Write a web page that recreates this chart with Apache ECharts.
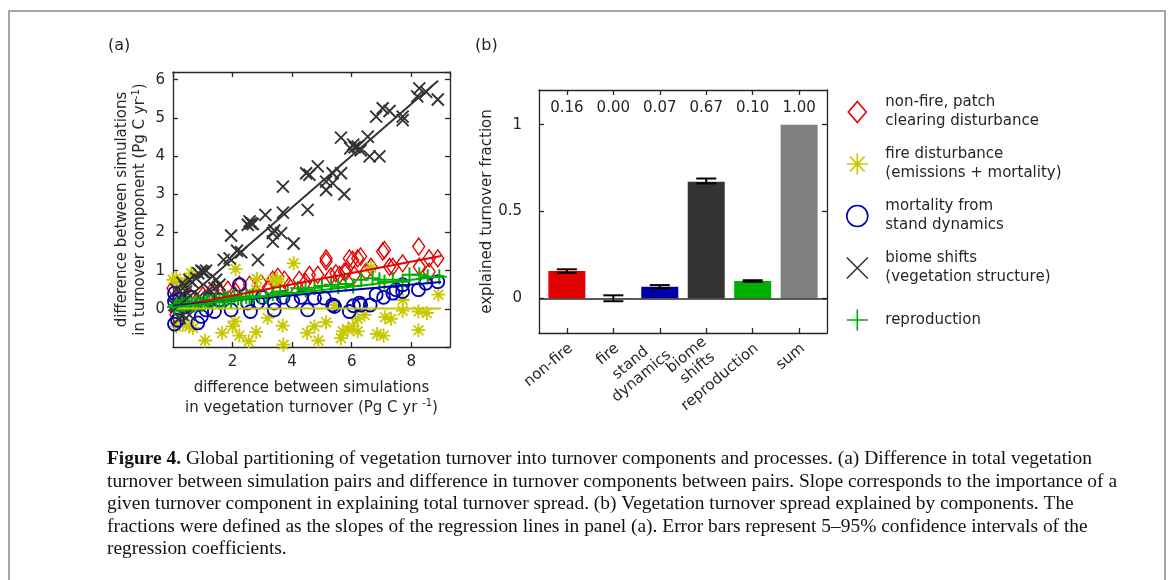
<!DOCTYPE html>
<html><head><meta charset="utf-8">
<script src="https://cdn.jsdelivr.net/npm/echarts@6/dist/echarts.min.js"></script>
<style>html,body{margin:0;padding:0;background:#fff}#c{width:1171px;height:580px}</style>
</head><body><div id="c"></div>
<script>
// ---------- panel (a) data: difference in total turnover (x) vs component (y) ----------
const nonfireX = [0.0,0.1,0.25,0.4,0.6,0.8,1.0,1.2,1.34,1.6,1.84,2.1,2.23,2.57,2.96,3.2,3.35,3.52,3.74,3.9,4.24,4.45,4.58,4.86,5.14,5.14,5.3,5.47,5.59,5.75,5.81,5.92,6.03,6.09,6.2,6.3,6.48,6.65,7.04,7.1,7.27,7.38,7.71,8.25,8.27,8.6,8.6,8.89];
const nonfireY = [0.54,-0.16,0.25,0.1,0.3,0.2,0.35,0.3,0.5,0.4,0.5,0.45,0.63,0.63,0.67,0.55,0.76,0.84,0.76,0.6,0.76,0.7,0.89,0.89,1.24,1.32,0.85,0.93,0.89,0.97,0.97,1.32,1.28,0.89,1.32,1.37,0.97,1.1,1.5,1.54,1.1,1.1,1.19,1.63,1.1,1.32,0.97,1.32];

const fireX = [0.0,0.11,0.28,0.39,0.61,0.11,0.22,0.33,0.55,0.67,1.08,1.65,2.0,2.08,2.1,2.23,2.54,2.79,2.82,2.79,3.18,3.35,3.5,3.57,3.68,3.71,4.05,4.5,4.75,4.88,5.14,5.42,5.64,5.7,5.87,6.03,6.2,6.2,6.43,6.65,6.85,7.07,7.12,7.32,7.71,7.71,8.24,8.24,8.52,8.91];
const fireY = [0.76,0.80,0.58,0.71,0.93,-0.46,-0.24,-0.42,-0.46,-0.50,-0.83,-0.63,-0.46,-0.33,1.04,-0.70,-0.85,-0.61,0.78,0.50,-0.24,0.76,0.78,0.71,-0.44,-0.94,1.19,-0.63,-0.46,-0.83,-0.35,0.10,-0.77,-0.59,-0.55,-0.46,-0.26,-0.59,-0.16,1.08,-0.66,-0.70,-0.22,-0.26,0.23,-0.05,-0.07,-0.56,-0.11,0.37];

const standX = [0.05,0.05,0.22,0.05,0.15,0.4,0.6,0.83,0.95,1.11,1.22,1.39,1.56,1.95,2.23,2.51,2.6,2.85,3.0,3.4,3.4,3.7,4.02,4.3,4.52,4.75,5.08,5.36,5.42,5.92,6.06,6.26,6.3,6.62,6.82,7.07,7.38,7.49,7.71,7.71,8.24,8.49,8.89];
const standY = [0.19,0.41,0.25,-0.40,-0.30,0.05,0.3,-0.37,-0.20,-0.03,0.23,-0.07,0.23,-0.03,0.63,0.15,-0.07,0.17,0.3,-0.03,0.15,0.3,0.19,0.3,-0.03,0.28,0.28,0.10,0.06,-0.07,0.08,0.15,0.10,0.10,0.37,0.30,0.41,0.50,0.45,0.63,0.50,0.67,0.71];

const biomeX = [0.05,0.10,0.11,0.22,0.28,0.32,0.33,0.39,0.44,0.55,0.55,0.65,0.78,0.85,0.89,0.95,1.00,1.05,1.11,1.22,1.39,1.45,1.56,1.70,1.90,1.95,2.15,2.29,2.51,2.57,2.62,2.68,2.85,3.10,3.35,3.35,3.40,3.63,3.69,3.69,4.05,4.47,4.52,4.58,4.86,5.14,5.14,5.36,5.36,5.64,5.64,5.75,5.95,6.05,6.10,6.20,6.30,6.54,6.60,6.93,6.82,7.04,7.27,7.71,7.71,8.20,8.27,8.50,8.89];
const biomeY = [0.10,0.06,0.50,-0.24,0.37,0.68,-0.16,0.58,0.45,0.76,-0.16,0.70,0.80,0.93,0.32,1.00,0.97,0.95,1.00,0.50,0.54,0.76,0.63,1.28,1.32,1.92,1.52,1.48,2.20,2.29,2.24,2.22,1.28,2.46,1.98,1.76,2.05,1.98,2.52,3.20,1.71,3.55,2.59,3.51,3.73,3.33,3.11,3.55,3.29,3.55,4.48,3.00,4.20,4.30,4.23,4.25,4.15,4.51,3.99,3.99,5.03,5.25,5.18,5.03,4.94,5.56,5.77,5.68,5.48];

const reproX = [0.05,0.12,0.22,0.3,0.39,0.47,0.55,0.63,0.72,0.8,0.89,0.97,1.06,1.14,1.22,1.33,1.45,1.56,1.67,1.75,1.84,1.95,2.06,2.18,2.29,2.46,2.57,2.68,2.9,3.13,3.35,3.6,3.85,4.19,4.45,4.75,5.0,5.31,5.55,5.8,6.05,6.32,6.7,6.93,7.1,7.38,7.71,7.94,8.27,8.55,8.94];
const reproY = [0.05,0.1,0.06,0.12,0.1,0.15,0.15,0.1,0.1,0.18,0.15,0.12,0.15,0.2,0.19,0.2,0.23,0.2,0.23,0.25,0.28,0.22,0.32,0.28,0.28,0.32,0.3,0.32,0.32,0.32,0.4,0.45,0.42,0.54,0.5,0.55,0.6,0.63,0.58,0.65,0.6,0.76,0.8,0.76,0.7,0.76,0.71,0.89,0.89,0.84,0.84];

// regression line end points
const nonfireFitX = [0, 9.0],  nonfireFitY = [0.05, 1.38];
const fireFitX    = [0, 9.0],  fireFitY    = [0.01, 0.01];
const standFitX   = [0, 9.0],  standFitY   = [0.08, 0.70];
const biomeFitX   = [0, 8.9],  biomeFitY   = [-0.05, 5.97];
const reproFitX   = [0, 9.1],  reproFitY   = [0.04, 0.86];

const seriesNames = ['non-fire, patch\nclearing disturbance', 'fire disturbance\n(emissions + mortality)', 'mortality from\nstand dynamics', 'biome shifts\n(vegetation structure)', 'reproduction'];

// ---------- panel (b) data ----------
const barCategories = ['non-fire', 'fire', 'stand\ndynamics', 'biome\nshifts', 'reproduction', 'sum'];
const barPositions = [1, 2, 3, 4, 5, 6];
const barValues = [0.157, 0.002, 0.066, 0.672, 0.099, 1.0];
const errLow  = [0.147, -0.017, 0.058, 0.662, 0.095, null];
const errHigh = [0.167,  0.017, 0.076, 0.690, 0.104, null];

// ---------- styling ----------
const C = { red:'#e60000', yellow:'#c8c800', blue:'#0000b4', gray:'#333333', green:'#00b000' };
const barColors = ['#e00000', '#e00000', '#0000aa', '#333333', '#00b000', '#808080'];
const TXT = '#262626';
const FF = 'DejaVu Sans';
const AX = { color: '#262626', width: 1.3 };

const symAster = 'path://M0,10L20,10M10,0L10,20M3,3L17,17M17,3L3,17';
const symX = 'path://M0,0L20,20M20,0L0,20';
const symPlus = 'path://M0,10L20,10M10,0L10,20';
const symDiamond = 'path://M6,0L12,7L6,14L0,7Z';

const zip = (xs, ys) => xs.map((x, i) => [x, ys[i]]);

const ctx = document.createElement('canvas').getContext('2d');
function textW(t, font) { ctx.font = font; return ctx.measureText(t).width; }

const chart = echarts.init(document.getElementById('c'), null, { renderer: 'canvas' });

function boxAxis(extra) {
  return Object.assign({
    axisLine: { show: true, onZero: false, lineStyle: AX },
    axisTick: { show: true, inside: true, length: 5, lineStyle: AX },
    splitLine: { show: false }
  }, extra);
}
const tickLabel = { fontSize: 15, fontFamily: FF, color: TXT };

// rich styles so that multi-line category labels are centred line by line
const catRich = {};
barCategories.forEach((s, i) => {
  const w = Math.max.apply(null, s.split('\n').map(p => textW(p, '15px "DejaVu Sans"')));
  catRich['c' + i] = { width: Math.ceil(w), align: 'center', fontSize: 15, fontFamily: FF, color: TXT, lineHeight: 17 };
});
function catLabel(v) {
  const i = Math.round(v) - 1;
  const s = barCategories[i];
  if (s.indexOf('\n') < 0) return s;
  return s.split('\n').map(p => '{c' + i + '|' + p + '}').join('\n');
}

const scatterDefs = [
  { name: seriesNames[0], symbol: 'diamond', size: [12, 17], color: C.red, bw: 1.4, x: nonfireX, y: nonfireY },
  { name: seriesNames[1], symbol: symAster, size: 14, color: C.yellow, bw: 1.8, x: fireX, y: fireY },
  { name: seriesNames[2], symbol: 'circle', size: 13, color: C.blue, bw: 1.8, x: standX, y: standY },
  { name: seriesNames[3], symbol: symX, size: 12, color: C.gray, bw: 1.9, x: biomeX, y: biomeY },
  { name: seriesNames[4], symbol: symPlus, size: 15, color: C.green, bw: 2, x: reproX, y: reproY }
];
const fitDefs = [
  [nonfireFitX, nonfireFitY, C.red], [fireFitX, fireFitY, C.yellow], [standFitX, standFitY, C.blue],
  [biomeFitX, biomeFitY, C.gray], [reproFitX, reproFitY, C.green]
];
const legendIcons = [symDiamond, symAster, 'circle', symX, symPlus];

const series = [];
scatterDefs.forEach(d => series.push({
  type: 'scatter', name: d.name, xAxisIndex: 0, yAxisIndex: 0,
  symbol: d.symbol, symbolSize: d.size,
  itemStyle: { color: 'rgba(0,0,0,0)', borderColor: d.color, borderWidth: d.bw, opacity: 1 },
  emphasis: { disabled: true },
  data: zip(d.x, d.y)
}));
fitDefs.forEach(f => series.push({
  type: 'line', xAxisIndex: 0, yAxisIndex: 0, showSymbol: false, symbol: 'none',
  lineStyle: { color: f[2], width: 2 }, z: 3, silent: true,
  data: zip(f[0], f[1])
}));
series.push({
  type: 'bar', xAxisIndex: 2, yAxisIndex: 2, barWidth: 37,
  data: barPositions.map((p, i) => ({ value: [p, barValues[i]], itemStyle: { color: barColors[i] } })),
  silent: true,
  markLine: { silent: true, symbol: 'none', label: { show: false },
    lineStyle: { color: '#262626', width: 1.5, type: 'solid' }, data: [{ yAxis: 0 }] }
});
series.push({
  type: 'custom', xAxisIndex: 2, yAxisIndex: 2, z: 4, silent: true,
  data: barPositions.map((p, i) => [p, errLow[i], errHigh[i]]).filter(d => d[1] !== null),
  renderItem: function (params, api) {
    const x = api.value(0);
    const p1 = api.coord([x, api.value(1)]);
    const p2 = api.coord([x, api.value(2)]);
    const hw = 10;
    const st = { stroke: '#000', lineWidth: 2 };
    return { type: 'group', children: [
      { type: 'line', shape: { x1: p1[0], y1: p1[1], x2: p2[0], y2: p2[1] }, style: st },
      { type: 'line', shape: { x1: p1[0] - hw, y1: p1[1], x2: p1[0] + hw, y2: p1[1] }, style: st },
      { type: 'line', shape: { x1: p2[0] - hw, y1: p2[1], x2: p2[0] + hw, y2: p2[1] }, style: st }
    ] };
  }
});

// caption
const captionLines = [
  '{b|Figure 4.} Global partitioning of vegetation turnover into turnover components and processes. (a) Difference in total vegetation',
  'turnover between simulation pairs and difference in turnover components between pairs. Slope corresponds to the importance of a',
  'given turnover component in explaining total turnover spread. (b) Vegetation turnover spread explained by components. The',
  'fractions were defined as the slopes of the regression lines in panel (a). Error bars represent 5\u201395% confidence intervals of the',
  'regression coefficients.'
];
const CAP_FS = 19.5;
const capScale = 1010 / textW(captionLines[1], CAP_FS + 'px "Liberation Serif"');

const rich2 = {
  n: { fontSize: 15, fontFamily: FF, color: TXT, lineHeight: 18 },
  s: { fontSize: 10, fontFamily: FF, color: TXT, lineHeight: 18, verticalAlign: 'top' }
};

chart.setOption({
  animation: false,
  backgroundColor: '#fff',
  grid: [
    { left: 173, top: 72, width: 277, height: 275, containLabel: false, outerBoundsMode: 'none' },
    { left: 539, top: 90, width: 288, height: 243, containLabel: false, outerBoundsMode: 'none' }
  ],
  xAxis: [
    boxAxis({ gridIndex: 0, type: 'value', position: 'bottom', min: 0, max: 9.3, interval: 2,
      axisLabel: Object.assign({ showMinLabel: false, showMaxLabel: false, margin: 8 }, tickLabel),
      name: 'difference between simulations\n{n|in vegetation turnover (Pg C yr }{s|-1}{n|)}',
      nameLocation: 'middle', nameGap: 31,
      nameTextStyle: { fontSize: 15, fontFamily: FF, color: TXT, lineHeight: 20,
        rich: { n: Object.assign({}, rich2.n, { lineHeight: 20 }), s: Object.assign({}, rich2.s, { lineHeight: 20 }) } } }),
    boxAxis({ gridIndex: 0, type: 'value', position: 'top', min: 0, max: 9.3, interval: 2, axisLabel: { show: false } }),
    boxAxis({ gridIndex: 1, type: 'value', position: 'bottom', min: 0.4, max: 6.6,
      axisTick: { show: true, inside: true, length: 5, lineStyle: AX, customValues: barPositions },
      axisLabel: Object.assign({ customValues: barPositions, rotate: 40, margin: 9, padding: [12, 0, 0, 0],
        formatter: catLabel, rich: catRich, lineHeight: 17 }, tickLabel) }),
    boxAxis({ gridIndex: 1, type: 'value', position: 'top', min: 0.4, max: 6.6,
      axisTick: { show: true, inside: true, length: 5, lineStyle: AX, customValues: barPositions },
      axisLabel: Object.assign({ customValues: barPositions, inside: true, margin: 11,
        formatter: v => barValues[Math.round(v) - 1].toFixed(2) }, tickLabel) })
  ],
  yAxis: [
    boxAxis({ gridIndex: 0, type: 'value', position: 'left', min: -1, max: 6.2, interval: 1,
      axisLabel: Object.assign({ showMinLabel: false, showMaxLabel: false, margin: 8 }, tickLabel),
      name: 'difference between simulations\n{n|in turnover component (Pg C yr}{s|-1}{n|)}',
      nameLocation: 'middle', nameGap: 24,
      nameTextStyle: { fontSize: 15, fontFamily: FF, color: TXT, lineHeight: 18, rich: rich2 } }),
    boxAxis({ gridIndex: 0, type: 'value', position: 'right', min: -1, max: 6.2, interval: 1, axisLabel: { show: false } }),
    boxAxis({ gridIndex: 1, type: 'value', position: 'left', min: -0.2, max: 1.2,
      axisTick: { show: true, inside: true, length: 5, lineStyle: AX, customValues: [0, 0.5, 1] },
      axisLabel: Object.assign({ customValues: [0, 0.5, 1], margin: 17 }, tickLabel),
      name: 'explained turnover fraction', nameLocation: 'middle', nameGap: 43,
      nameTextStyle: { fontSize: 15, fontFamily: FF, color: TXT } }),
    boxAxis({ gridIndex: 1, type: 'value', position: 'right', min: -0.2, max: 1.2,
      axisTick: { show: true, inside: true, length: 5, lineStyle: AX, customValues: [0, 0.5, 1] },
      axisLabel: { show: false } })
  ],
  legend: {
    orient: 'vertical', left: 841, top: 88, itemGap: 14, itemWidth: 46, itemHeight: 21,
    selectedMode: false,
    data: seriesNames.map((n, i) => ({ name: n, icon: legendIcons[i],
      itemStyle: { color: 'rgba(0,0,0,0)', borderColor: scatterDefs[i].color, borderWidth: 1.6 } })),
    formatter: n => n.indexOf('\n') >= 0 ? n : '{s|' + n + '}',
    textStyle: { fontSize: 15, fontFamily: FF, color: TXT, lineHeight: 19,
      rich: { s: { fontSize: 15, fontFamily: FF, color: TXT, lineHeight: 38 } } }
  },
  graphic: [
    { type: 'rect', silent: true, shape: { x: 9, y: 11, width: 1156, height: 640 },
      style: { fill: 'none', stroke: '#a6a6a6', lineWidth: 2 } },
    { type: 'text', silent: true, x: 108, y: 38, style: { text: '(a)', fontSize: 16, fontFamily: FF, fill: TXT } },
    { type: 'text', silent: true, x: 475, y: 38, style: { text: '(b)', fontSize: 16, fontFamily: FF, fill: TXT } },
    { type: 'text', silent: true, x: 107, y: 448, scaleX: capScale,
      style: { text: captionLines.join('\n'), fontSize: CAP_FS, fontFamily: 'Liberation Serif', fill: '#111',
        lineHeight: 22.5, verticalAlign: 'top',
        rich: { b: { fontSize: CAP_FS, fontFamily: 'Liberation Serif', fontWeight: 'bold', fill: '#111', lineHeight: 22.5 } } } }
  ],
  series: series
});
</script></body></html>
